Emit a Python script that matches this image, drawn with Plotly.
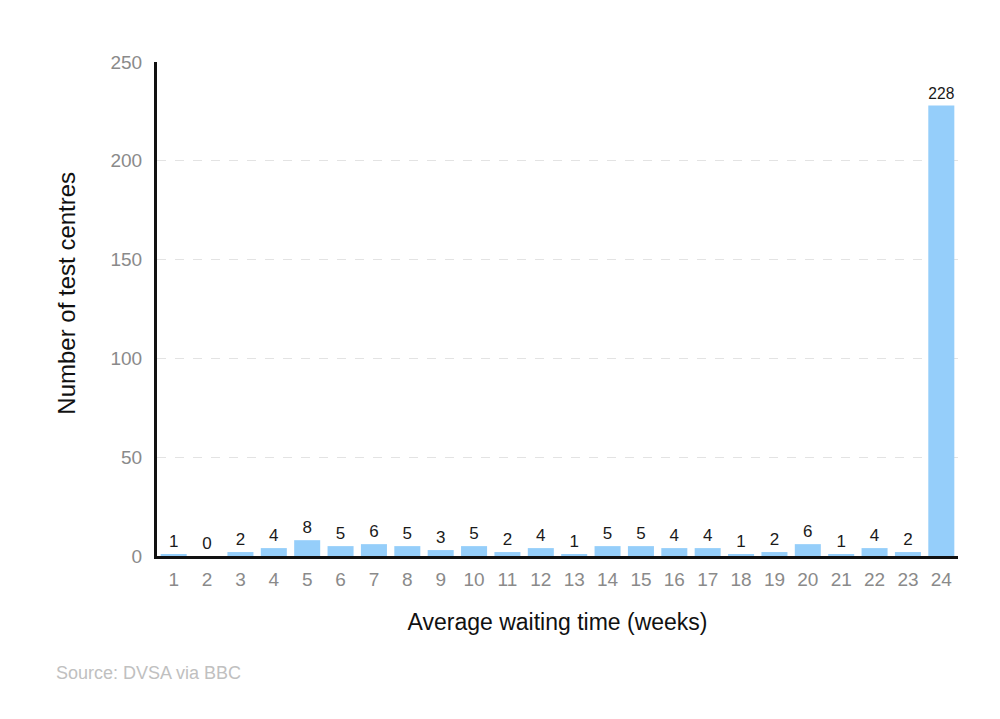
import plotly.graph_objects as go

weeks = [str(i) for i in range(1, 25)]
centres = [1, 0, 2, 4, 8, 5, 6, 5, 3, 5, 2, 4, 1, 5, 5, 4, 4, 1, 2, 6, 1, 4, 2, 228]

fig = go.Figure()
fig.add_trace(go.Bar(
    x=weeks, y=centres,
    marker=dict(color="#95CEFA", line=dict(width=0)),
    text=[str(v) for v in centres], textposition="outside",
    textfont=dict(color="#1a1a1a", size=17, family="Liberation Sans, Arial"),
    cliponaxis=False,
))
fig.update_layout(
    width=1000, height=711,
    margin=dict(l=149, r=50, t=54, b=163),
    plot_bgcolor="white", paper_bgcolor="white",
    bargap=0.22,
    showlegend=False,
    font=dict(family="Liberation Sans, Arial"),
)
fig.update_xaxes(
    type="category",
    showline=True, linecolor="#111", linewidth=3,
    tickfont=dict(color="#8a8a8a", size=19),
    ticks="outside", ticklen=4, tickcolor="white",
    title=dict(text="Average waiting time (weeks)", font=dict(color="#111", size=23), standoff=26),
)
fig.update_yaxes(
    range=[0, 250], tickvals=[0, 50, 100, 150, 200, 250],
    showline=True, linecolor="#111", linewidth=3,
    showgrid=True, gridcolor="#e3e3e3", griddash="dash", gridwidth=1,
    zeroline=False,
    tickfont=dict(color="#8a8a8a", size=19),
    ticks="outside", ticklen=8, tickcolor="white",
)
fig.add_annotation(
    text="Number of test centres", xref="paper", yref="paper",
    x=-0.113, y=0.532, xanchor="center", yanchor="middle", textangle=-90,
    showarrow=False, font=dict(color="#111", size=24),
)
fig.add_annotation(
    text="Source: DVSA via BBC", xref="paper", yref="paper",
    x=-0.128, y=-0.236, xanchor="left", yanchor="middle",
    showarrow=False, font=dict(color="#c0c0c0", size=18),
)
fig.write_html("out.html")
